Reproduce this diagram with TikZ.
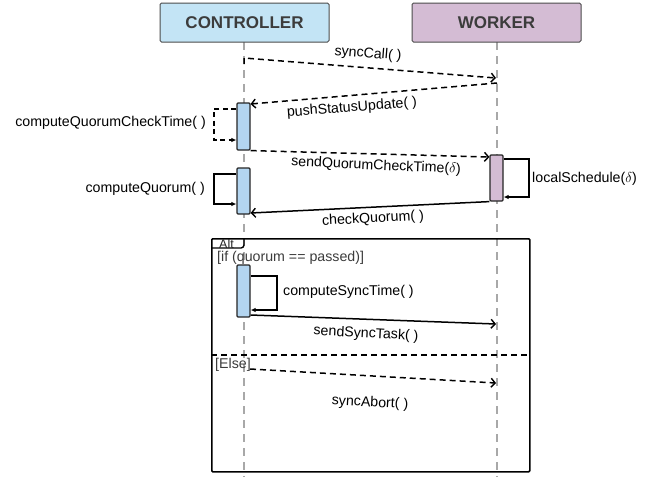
\documentclass[tikz,border=0pt]{standalone}
\usepackage{fontspec}
\setmainfont{Liberation Sans}
\usetikzlibrary{arrows.meta}
\definecolor{hdrblue}{HTML}{C3E4F5}
\definecolor{barblue}{HTML}{B3D5F0}
\definecolor{hdrpurple}{HTML}{D4BCD4}
\definecolor{txtgray}{HTML}{3C3C3C}
\definecolor{lifegray}{HTML}{A8A8A8}
\tikzset{
  header/.style={draw=black!70, line width=1pt, rounded corners=1.5pt, minimum width=169pt, minimum height=39pt, inner sep=0pt, font=\fontsize{17}{20}\selectfont\bfseries, text=txtgray},
  actbar/.style={draw=black!85, line width=1.2pt, rounded corners=1pt, minimum width=13pt, inner sep=0pt},
  lifeline/.style={draw=lifegray, line width=1.3pt, dash pattern=on 8pt off 6pt},
  msgsync/.style={draw=black, line width=1.5pt, -{Straight Barb[length=4pt,width=9pt,line width=1.4pt]}},
  msgasync/.style={msgsync, dash pattern=on 6pt off 4pt},
  selfloop/.style={draw=black, line width=1.5pt, -{Latex[length=5pt,width=4.5pt]}},
  selfloopd/.style={selfloop, dash pattern=on 5pt off 3.5pt},
  lbl/.style={font=\fontsize{14.2}{16}\selectfont, inner sep=0pt},
}
\begin{document}
\begin{tikzpicture}[x=1pt, y=-1pt]
\useasboundingbox (0,0) rectangle (655,477);
\fill[white] (0,0) rectangle (655,477);
% lifelines
\coordinate (ctop) at (244,42); \coordinate (cbot) at (244,477);
\coordinate (wtop) at (497,42); \coordinate (wbot) at (497,477);
\draw[lifeline] (ctop) -- (cbot);
\draw[lifeline] (wtop) -- (wbot);
% headers
\node[header, fill=hdrblue] (ctrl) at (244.5,22.5) {CONTROLLER};
\node[header, fill=hdrpurple] (work) at (496.5,22.5) {WORKER};
% alt frame
\node[draw=black, line width=1.5pt, rounded corners=1pt, minimum width=318pt, minimum height=233pt, inner sep=0pt, anchor=north west] (alt) at (211,238) {};
\draw[line width=1.4pt, rounded corners=3pt] (211,248) -- (244,248) -- (244,238);
\node[font=\fontsize{12.5}{14}\selectfont, text=black!85, inner sep=0pt] (altlbl) at (226.5,244) {Alt};
\node[lbl, text=txtgray, anchor=west] (cond1) at (217,258) {[if (quorum == passed)]};
\coordinate (elsel) at (211,355); \coordinate (elser) at (529,355);
\draw[line width=1.5pt, dash pattern=on 6pt off 4pt] (elsel) -- (elser);
\node[lbl, text=txtgray, anchor=west] (cond2) at (215,365) {[Else]};
% activation bars
\node[actbar, fill=barblue, minimum height=47pt] (act1) at (243.5,126.5) {};
\node[actbar, fill=barblue, minimum height=46pt] (act2) at (243.5,191) {};
\node[actbar, fill=barblue, minimum height=52pt] (act3) at (243.5,291) {};
\node[actbar, fill=hdrpurple, minimum height=46pt] (wact) at (496.5,178) {};
% syncCall
\coordinate (sc0) at (244,64); \coordinate (sc1) at (244,58); \coordinate (sc2) at (496,78);
\draw[msgasync] (sc0) -- (sc1) -- (sc2);
\node[lbl, rotate=-4.5] (lsc) at (368,54) {syncCall( )};
% pushStatusUpdate
\coordinate (pu1) at (497,83);
\draw[msgasync] (pu1) -- (act1.north east |- 0,104);
\node[lbl, rotate=4.5] (lpu) at (352,108) {pushStatusUpdate( )};
% computeQuorumCheckTime self loop
\draw[selfloopd] (act1.west |- 0,109) -- (214,109) -- (214,140) -- (act1.west |- 0,140);
\node[lbl, anchor=east] (lcqct) at (206,123) {computeQuorumCheckTime( )};
% sendQuorumCheckTime
\draw[msgasync] (act1.south east) -- (wact.west |- 0,157);
\node[lbl, rotate=-2.5] (lsq) at (376,166) {sendQuorumCheckTime($\delta$)};
% localSchedule
\draw[selfloop] (wact.east |- 0,159) -- (529,159) -- (529,197) -- (wact.east |- 0,197);
\node[lbl, anchor=west] (lls) at (532,179) {localSchedule($\delta$)};
% computeQuorum
\draw[selfloop] (act2.west |- 0,174) -- (214,174) -- (214,204) -- (act2.west |- 0,204);
\node[lbl, anchor=east] (lcq) at (205,189) {computeQuorum( )};
% checkQuorum
\draw[msgsync] (wact.south west) -- (act2.east |- 0,213);
\node[lbl, rotate=3] (lcheck) at (373,219) {checkQuorum( )};
% computeSyncTime
\draw[selfloop] (act3.east |- 0,276) -- (277,276) -- (277,310) -- (act3.east |- 0,310);
\node[lbl, anchor=west] (lcst) at (283,292) {computeSyncTime( )};
% sendSyncTask
\coordinate (st2) at (496,324);
\draw[msgsync] (act3.east |- 0,315) -- (st2);
\node[lbl, rotate=-3] (lst) at (366,334) {sendSyncTask( )};
% syncAbort
\coordinate (sa1) at (250,369); \coordinate (sa2) at (496,383);
\draw[msgasync] (sa1) -- (sa2);
\node[lbl, rotate=-3] (lsa) at (370,403) {syncAbort( )};
\end{tikzpicture}
\end{document}
